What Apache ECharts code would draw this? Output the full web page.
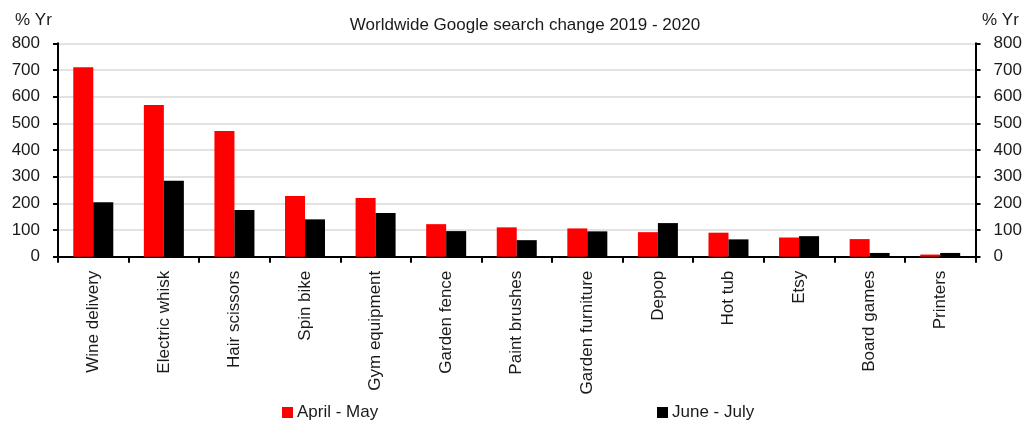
<!DOCTYPE html>
<html>
<head>
<meta charset="utf-8">
<script src="https://cdn.jsdelivr.net/npm/echarts@6/dist/echarts.min.js"></script>
<style>
  html, body { margin: 0; padding: 0; background: #fff; }
  #chart { width: 1036px; height: 423px; }
</style>
</head>
<body>
<div id="chart"></div>
<script>
// Search terms, in chart order
const categories = ['Wine delivery', 'Electric whisk', 'Hair scissors', 'Spin bike', 'Gym equipment',
  'Garden fence', 'Paint brushes', 'Garden furniture', 'Depop', 'Hot tub', 'Etsy', 'Board games', 'Printers'];
// Year-on-year change in searches, %
const aprilMay = [710, 569, 471, 228, 220, 122, 110, 106, 92, 90, 72, 66, 8];
const juneJuly = [204, 285, 175, 140, 164, 96, 62, 95, 126, 65, 77, 14, 14];
const yTicks = { min: 0, max: 800, interval: 100 };

const FONT = '"Liberation Sans", Arial, sans-serif';
const TXT = '#1a1a1a';

const chart = echarts.init(document.getElementById('chart'));

const valueAxis = (pos) => ({
  type: 'value',
  position: pos,
  min: yTicks.min, max: yTicks.max, interval: yTicks.interval,
  axisLine: { show: true, lineStyle: { color: '#000', width: 2 } },
  axisTick: { show: true, length: 5, lineStyle: { color: '#000', width: 2 } },
  axisLabel: { color: TXT, fontSize: 17, fontFamily: FONT, margin: 18 },
  splitLine: { show: pos === 'left', lineStyle: { color: '#d9d9d9', width: 1.5 } }
});

const legendItem = (name, left) => ({
  data: [name], left: left, top: 399, icon: 'rect', itemWidth: 11, itemHeight: 11, itemGap: 5,
  textStyle: { color: TXT, fontSize: 17, fontFamily: FONT, padding: [0, 0, 0, -1] }
});

chart.setOption({
  animation: false,
  backgroundColor: '#fff',
  textStyle: { fontFamily: FONT },
  title: {
    text: 'Worldwide Google search change 2019 - 2020',
    left: 520, top: 12, textAlign: 'center',
    textStyle: { color: TXT, fontSize: 17, fontWeight: 'normal', fontFamily: FONT }
  },
  graphic: [
    { type: 'text', left: 15, top: 12, style: { text: '% Yr', fill: TXT, font: '17px ' + FONT } },
    { type: 'text', left: 982, top: 12, style: { text: '% Yr', fill: TXT, font: '17px ' + FONT } }
  ],
  legend: [legendItem('April - May', 277), legendItem('June - July', 652)],
  grid: { left: 58, right: 60.5, top: 43.3, bottom: 166.3, containLabel: false },
  xAxis: {
    type: 'category',
    data: categories,
    axisLine: { lineStyle: { color: '#000', width: 2 } },
    axisTick: { show: true, length: 6, alignWithLabel: false, lineStyle: { color: '#000', width: 2 } },
    axisLabel: { interval: 0, rotate: 90, color: TXT, fontSize: 17, fontFamily: FONT, margin: 14 }
  },
  yAxis: [valueAxis('left'), valueAxis('right')],
  series: [
    {
      name: 'April - May', type: 'bar', data: aprilMay, barWidth: 20, barGap: '0%',
      itemStyle: { color: '#ff0000' }
    },
    {
      name: 'June - July', type: 'bar', data: juneJuly, barWidth: 20, barGap: '0%',
      itemStyle: { color: '#000000' }
    }
  ]
});
</script>
</body>
</html>
